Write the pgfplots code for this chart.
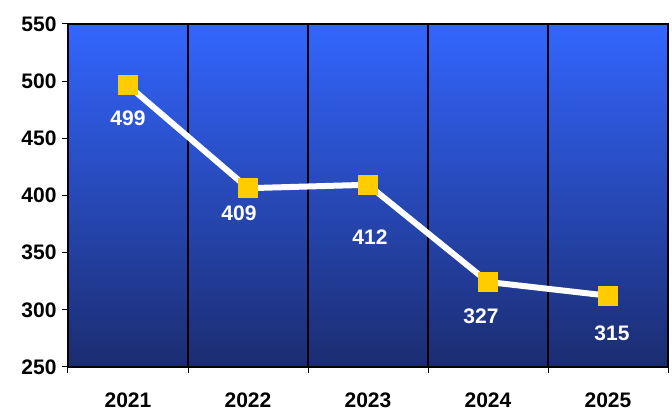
\documentclass[border=0pt]{standalone}
\usepackage{pgfplots}
\pgfplotsset{compat=1.18}
\usepackage{pgfplotstable}
\usepackage{fontspec}
\setmainfont{Liberation Sans}
\usetikzlibrary{calc}
\definecolor{topblue}{HTML}{3366FF}
\definecolor{botblue}{HTML}{1B2C70}
\definecolor{mkyellow}{HTML}{FFCC00}
\pgfplotstableread{
x y dx dy
0.5 499 0 22
1.5 409 -9 14
2.5 412 2 42
3.5 327 -7 24
4.5 315 4 27
}\datatable
\begin{document}
\begin{tikzpicture}
\begin{axis}[
  scale only axis,
  width=600pt, height=343pt,
  xmin=0, xmax=5, ymin=250, ymax=550,
  axis background/.style={shade, top color=topblue, bottom color=botblue},
  axis line style={black, line width=1.2pt},
  ytick={250,300,...,550},
  xtick={0,1,2,3,4,5},
  xticklabels={},
  xmajorgrids=true,
  major grid style={black, line width=1.2pt},
  tick align=outside,
  tick style={black, line width=1pt},
  major tick length=6pt,
  ytick pos=left,
  xtick pos=bottom,
  extra x ticks={0.5,1.5,2.5,3.5,4.5},
  extra x tick labels={2021,2022,2023,2024,2025},
  extra x tick style={major tick length=0pt, grid=none, xticklabel style={yshift=-22pt}},
  tick label style={font=\fontsize{21}{25}\selectfont\bfseries},
  /pgf/number format/assume math mode=true,
  yticklabel style={xshift=-2pt},
  clip=false,
]
\addplot[white, line width=6pt, mark=square*, mark size=9.5pt, yshift=-3pt,
  mark options={fill=mkyellow, draw=mkyellow, line width=0pt},
  visualization depends on={\thisrow{dx}\as\mydx},
  visualization depends on={\thisrow{dy}\as\mydy},
  nodes near coords,
  point meta=explicit symbolic,
  nodes near coords style={anchor=north, white, font=\fontsize{21}{25}\selectfont\bfseries, xshift=\mydx pt, yshift=-\mydy pt},
] table[x=x, y=y, meta=y] {\datatable};
\end{axis}
\path ($(current axis.south west)+(-68pt,-44pt)$) rectangle ($(current axis.north east)+(4pt,24pt)$);
\end{tikzpicture}
\end{document}
